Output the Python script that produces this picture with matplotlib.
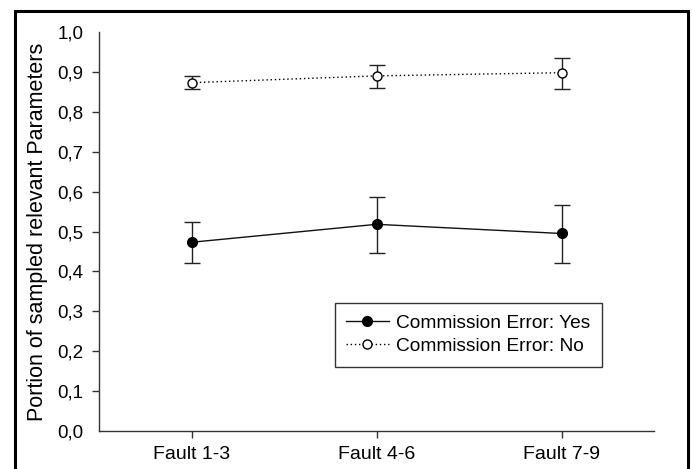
import matplotlib
matplotlib.use("Agg")
import matplotlib.pyplot as plt
from matplotlib.patches import Rectangle
from matplotlib.lines import Line2D

plt.rcParams['font.family'] = ['Liberation Sans', 'DejaVu Sans']

categories = ["Fault 1-3", "Fault 4-6", "Fault 7-9"]
yes_mean = [0.473, 0.518, 0.495]
yes_low = [0.420, 0.447, 0.420]
yes_high = [0.525, 0.587, 0.567]
no_mean = [0.873, 0.890, 0.898]
no_low = [0.856, 0.860, 0.858]
no_high = [0.889, 0.918, 0.934]
yticks = [0.0, 0.1, 0.2, 0.3, 0.4, 0.5, 0.6, 0.7, 0.8, 0.9, 1.0]
ytick_labels = ["0,0", "0,1", "0,2", "0,3", "0,4", "0,5", "0,6", "0,7", "0,8", "0,9", "1,0"]
series_labels = ["Commission Error: Yes", "Commission Error: No"]

W, H = 692, 469
fig = plt.figure(figsize=(W / 100, H / 100), dpi=100)
ax = fig.add_axes([99 / W, 1 - 431 / H, (654 - 99) / W, (431 - 32) / H])

x = list(range(1, len(categories) + 1))
yes_err = [[m - l for m, l in zip(yes_mean, yes_low)], [h - m for m, h in zip(yes_mean, yes_high)]]
no_err = [[m - l for m, l in zip(no_mean, no_low)], [h - m for m, h in zip(no_mean, no_high)]]

ax.errorbar(x, yes_mean, yerr=yes_err, fmt='-o', color='#111111', lw=1.0,
            ecolor='#222222', elinewidth=1.0, capsize=6, capthick=1.0,
            markersize=7, markerfacecolor='black', markeredgecolor='black')
ax.errorbar(x, no_mean, yerr=no_err, fmt='o', linestyle=(0, (1, 2)), color='black', lw=1.0,
            ecolor='#222222', elinewidth=1.0, capsize=6, capthick=1.0,
            markersize=6.5, markerfacecolor='white', markeredgecolor='black',
            markeredgewidth=1.0)

ax.set_xlim(0.5, 3.5)
ax.set_ylim(0.0, 1.0)
ax.set_xticks(x)
ax.set_xticklabels(categories, fontsize=14)
ax.set_yticks(yticks)
ax.set_yticklabels(ytick_labels, fontsize=13.5)
ax.tick_params(direction='out', length=5, width=1, color='#333333', pad=6)
ax.yaxis.get_major_ticks()[-1].tick1line.set_visible(False)
ax.yaxis.get_major_ticks()[0].tick1line.set_visible(False)
for s in ['top', 'right']:
    ax.spines[s].set_visible(False)
for s in ['left', 'bottom']:
    ax.spines[s].set_color('#333333')
    ax.spines[s].set_linewidth(1.0)

ax.set_ylabel("Portion of sampled relevant Parameters", fontsize=15.5, labelpad=7)

handles = [
    Line2D([], [], color='#111111', lw=1.0, marker='o', markersize=7,
           markerfacecolor='black', markeredgecolor='black'),
    Line2D([], [], color='black', lw=1.0, linestyle=(0, (1, 2)), marker='o', markersize=6.5,
           markerfacecolor='white', markeredgecolor='black'),
]
leg = ax.legend(handles, series_labels, loc='upper left', bbox_to_anchor=(0.425, 0.321),
                fontsize=13.8, frameon=True, fancybox=False, handlelength=2.2,
                handletextpad=0.4, labelspacing=0.3, borderpad=0.6, borderaxespad=0.0,
                numpoints=1)
leg.get_frame().set_edgecolor('black')
leg.get_frame().set_linewidth(1.0)

frame = Rectangle((15 / W, -0.05), (688 - 15) / W, 1 - 11 / H + 0.05,
                  transform=fig.transFigure, fill=False, edgecolor='black',
                  linewidth=2.2, clip_on=False)
fig.add_artist(frame)

fig.savefig("out.png", dpi=100)
